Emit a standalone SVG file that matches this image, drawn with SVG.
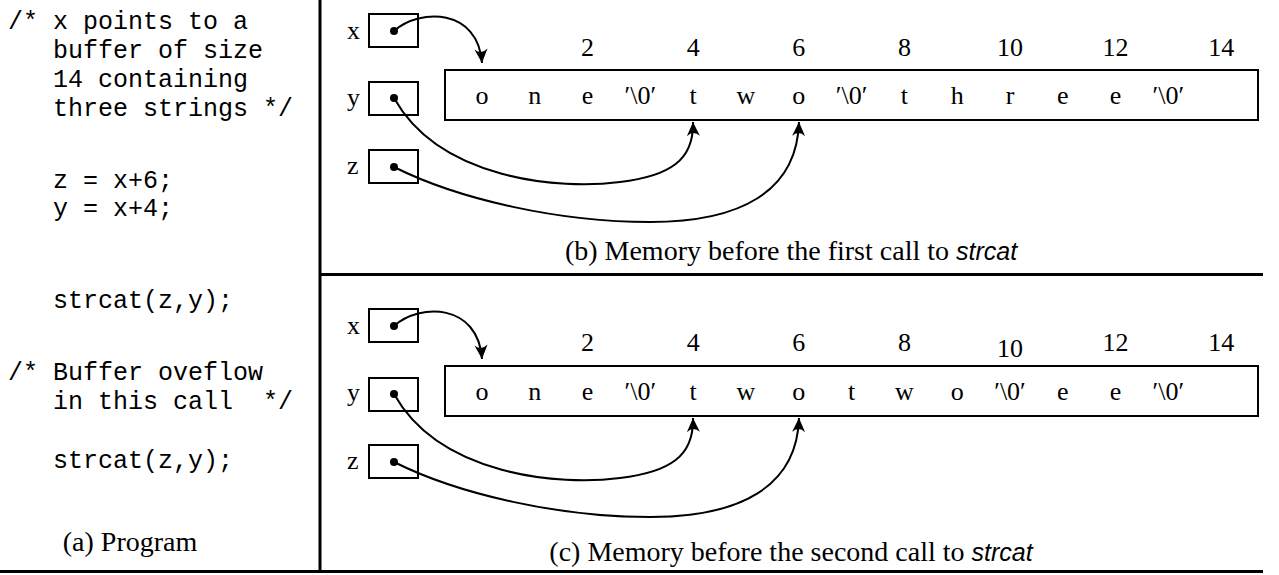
<svg xmlns="http://www.w3.org/2000/svg" width="1279" height="575" viewBox="0 0 1279 575">
<style>
.code{font-family:"Liberation Mono",monospace;font-size:25px;fill:#000}
.rm{font-family:"Liberation Serif",serif;font-size:26px;fill:#000}
.cell{font-family:"Liberation Serif",serif;font-size:26px;fill:#000;text-anchor:middle}
.cap{font-family:"Liberation Serif",serif;font-size:28px;fill:#000;text-anchor:middle}
.it{font-family:"Liberation Sans",sans-serif;font-style:italic;font-size:25px}
.box{fill:none;stroke:#000;stroke-width:2}
.rule{stroke:#000;stroke-width:3}
.ptr{fill:none;stroke:#000;stroke-width:2;marker-end:url(#ah)}
</style>
<defs>
<marker id="ah" viewBox="-15 -7 16 14" refX="0" refY="0" markerWidth="16" markerHeight="14" markerUnits="userSpaceOnUse" orient="auto">
<path d="M0,0 L-14,-6.5 Q-8,0 -14,6.5 Z" fill="#000"/>
</marker>
</defs>
<g id="rules">
<line class="rule" x1="320" y1="0" x2="320" y2="571"/>
<line class="rule" x1="0" y1="571.5" x2="1263" y2="571.5"/>
<line class="rule" x1="321" y1="274.5" x2="1263" y2="274.5"/>
</g>
<g id="program">
<text class="code" x="8" y="29" xml:space="preserve">/* x points to a</text>
<text class="code" x="8" y="58" xml:space="preserve">   buffer of size</text>
<text class="code" x="8" y="87" xml:space="preserve">   14 containing</text>
<text class="code" x="8" y="116" xml:space="preserve">   three strings */</text>
<text class="code" x="8" y="188" xml:space="preserve">   z = x+6;</text>
<text class="code" x="8" y="216" xml:space="preserve">   y = x+4;</text>
<text class="code" x="8" y="308" xml:space="preserve">   strcat(z,y);</text>
<text class="code" x="8" y="380" xml:space="preserve">/* Buffer oveflow</text>
<text class="code" x="8" y="409" xml:space="preserve">   in this call  */</text>
<text class="code" x="8" y="468" xml:space="preserve">   strcat(z,y);</text>
<text class="cap" x="130" y="551">(a) Program</text>
</g>
<g id="panel-b">
<g id="b-x"><text class="rm" x="347" y="39">x</text><rect class="box" x="369" y="14" width="49" height="33"/><circle cx="394" cy="31" r="4"/></g>
<g id="b-y"><text class="rm" x="347" y="106">y</text><rect class="box" x="369" y="82" width="49" height="33"/><circle cx="394" cy="98" r="4"/></g>
<g id="b-z"><text class="rm" x="347" y="174">z</text><rect class="box" x="369" y="150" width="49" height="33"/><circle cx="394" cy="167" r="4"/></g>
<g id="b-mem">
<rect class="box" x="445" y="70" width="813" height="50"/>
<text class="cell" y="56"><tspan x="587.6">2</tspan><tspan x="693.2">4</tspan><tspan x="798.8">6</tspan><tspan x="904.4">8</tspan><tspan x="1010">10</tspan><tspan x="1115.6">12</tspan><tspan x="1221.2">14</tspan></text>
<text class="cell" y="104"><tspan x="482">o</tspan><tspan x="534.8">n</tspan><tspan x="587.6">e</tspan><tspan x="640.4">′\0′</tspan><tspan x="693.2">t</tspan><tspan x="746">w</tspan><tspan x="798.8">o</tspan><tspan x="851.6">′\0′</tspan><tspan x="904.4">t</tspan><tspan x="957.2">h</tspan><tspan x="1010">r</tspan><tspan x="1062.8">e</tspan><tspan x="1115.6">e</tspan><tspan x="1168.4">′\0′</tspan></text>
</g>
<text class="cap" x="791" y="260">(b) Memory before the first call to <tspan class="it">strcat</tspan></text>
</g>
<g id="panel-c">
<g id="c-x"><text class="rm" x="347" y="334">x</text><rect class="box" x="369" y="309" width="49" height="33"/><circle cx="394" cy="326" r="4"/></g>
<g id="c-y"><text class="rm" x="347" y="401">y</text><rect class="box" x="369" y="378" width="49" height="33"/><circle cx="394" cy="394" r="4"/></g>
<g id="c-z"><text class="rm" x="347" y="469">z</text><rect class="box" x="369" y="445" width="49" height="33"/><circle cx="394" cy="462" r="4"/></g>
<g id="c-mem">
<rect class="box" x="445" y="366" width="813" height="50"/>
<text class="cell" y="351"><tspan x="587.6">2</tspan><tspan x="693.2">4</tspan><tspan x="798.8">6</tspan><tspan x="904.4">8</tspan><tspan x="1010" y="357">10</tspan><tspan x="1115.6" y="351">12</tspan><tspan x="1221.2">14</tspan></text>
<text class="cell" y="400"><tspan x="482">o</tspan><tspan x="534.8">n</tspan><tspan x="587.6">e</tspan><tspan x="640.4">′\0′</tspan><tspan x="693.2">t</tspan><tspan x="746">w</tspan><tspan x="798.8">o</tspan><tspan x="851.6">t</tspan><tspan x="904.4">w</tspan><tspan x="957.2">o</tspan><tspan x="1010">′\0′</tspan><tspan x="1062.8">e</tspan><tspan x="1115.6">e</tspan><tspan x="1168.4">′\0′</tspan></text>
</g>
<text class="cap" x="791" y="561">(c) Memory before the second call to <tspan class="it">strcat</tspan></text>
</g>
<g id="connectors">
<path class="ptr" d="M394,31 C420,8 478,8 482,63"/>
<path class="ptr" d="M394,98 C440,180 560,190 620,182 C670,176 694,160 693,122"/>
<path class="ptr" d="M394,167 C460,200 560,222 650,222 C740,222 797,192 799,122"/>
<path class="ptr" d="M394,326 C420,303 478,303 482,359"/>
<path class="ptr" d="M394,394 C440,476 560,486 620,478 C670,472 694,456 693,418"/>
<path class="ptr" d="M394,462 C460,495 560,517 650,517 C740,517 797,487 799,418"/>
</g>
</svg>
